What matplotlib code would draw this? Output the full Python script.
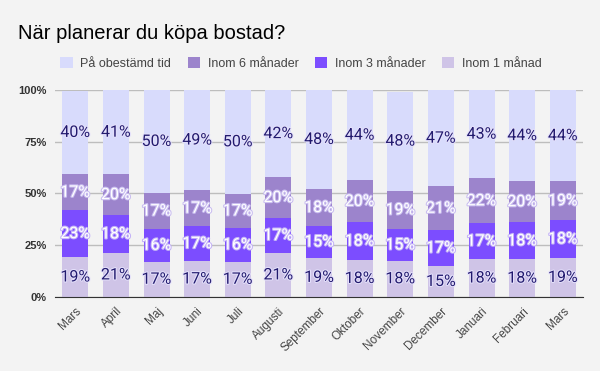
import matplotlib
matplotlib.use("Agg")
import numpy as np
from matplotlib import pyplot as plt
from matplotlib import patheffects as pe

months = ['Mars', 'April', 'Maj', 'Juni', 'Juli', 'Augusti', 'September',
          'Oktober', 'November', 'December', 'Januari', 'Februari', 'Mars']

# andel i procent, nerifrån och upp
inom_1 = [19.3, 21.3, 17.1, 17.4, 17.1, 21.3, 18.9, 17.9, 17.6, 15.0, 18.3, 18.2, 18.9]
inom_3 = [22.6, 18.3, 15.8, 16.8, 16.2, 16.9, 15.4, 18.2, 15.1, 17.3, 17.3, 17.9, 18.2]
inom_6 = [17.4, 19.6, 17.3, 17.3, 16.6, 19.6, 17.8, 20.2, 18.7, 21.1, 21.7, 19.8, 18.7]
obestamd = [40.4, 40.8, 49.9, 48.6, 50.1, 42.2, 48.0, 43.7, 47.8, 46.6, 42.7, 44.1, 44.2]

series = [
    ('Inom 1 månad', inom_1, '#cfc4e7', '#221a6e', '#e4e0fb'),
    ('Inom 3 månader', inom_3, '#7c4dff', 'white', '#c4b3f7'),
    ('Inom 6 månader', inom_6, '#9c84cc', 'white', '#c9bdf0'),
    ('På obestämd tid', obestamd, '#d8dbfc', '#221a6e', '#e4e0fb'),
]

fig = plt.figure(figsize=(6, 3.71), dpi=100, facecolor='#f3f3f3')
ax = fig.add_axes([0.0917, 0.1995, 0.8803, 0.558])
ax.set_facecolor('#f3f3f3')

x = np.arange(len(months))
bottom = np.zeros(len(months))
handles = {}
for name, vals, col, tcol, halo in series:
    vals = np.array(vals)
    bars = ax.bar(x, vals, 0.64, bottom=bottom, color=col, zorder=2)
    handles[name] = bars
    for xi, b, v in zip(x, bottom, vals):
        ax.text(xi, b + v / 2, f'{v:.0f}%', ha='center', va='center',
                fontsize=11.5, color=tcol, family='Roboto', zorder=3,
                path_effects=[pe.withStroke(linewidth=1.5, foreground=halo)])
    bottom += vals

ax.set_xlim(-0.5, len(months) - 0.5)
ax.set_ylim(0, 100)
ax.set_yticks([0, 25, 50, 75, 100])
ax.set_yticklabels(['0%', '25%', '50%', '75%', '100%'], fontsize=8,
                   fontweight='bold', color='#333333', family='Liberation Sans')
ax.set_xticks(x)
ax.set_xticklabels(months, rotation=45, ha='right', rotation_mode='anchor',
                   fontsize=8.5, color='#444444', family='Liberation Sans')
ax.tick_params(length=0, pad=6)
ax.grid(axis='y', color='#bdbdbd', linewidth=1, zorder=0)
for s in ['top', 'right', 'left']:
    ax.spines[s].set_visible(False)
ax.spines['bottom'].set_color('#333333')
ax.spines['bottom'].set_zorder(4)

fig.text(0.03, 0.91, 'När planerar du köpa bostad?', fontsize=14.5,
         family='Liberation Sans', color='black', va='center')

order = ['På obestämd tid', 'Inom 6 månader', 'Inom 3 månader', 'Inom 1 månad']
fig.legend([handles[n] for n in order], order, loc='center left',
           bbox_to_anchor=(0.082, 0.83), ncol=4, frameon=False,
           labelcolor='#444444', handlelength=1.0, handleheight=1.0,
           handletextpad=0.6, columnspacing=1.3,
           prop={'family': 'Liberation Sans', 'size': 9})

fig.savefig('out.png', dpi=100, facecolor='#f3f3f3')
